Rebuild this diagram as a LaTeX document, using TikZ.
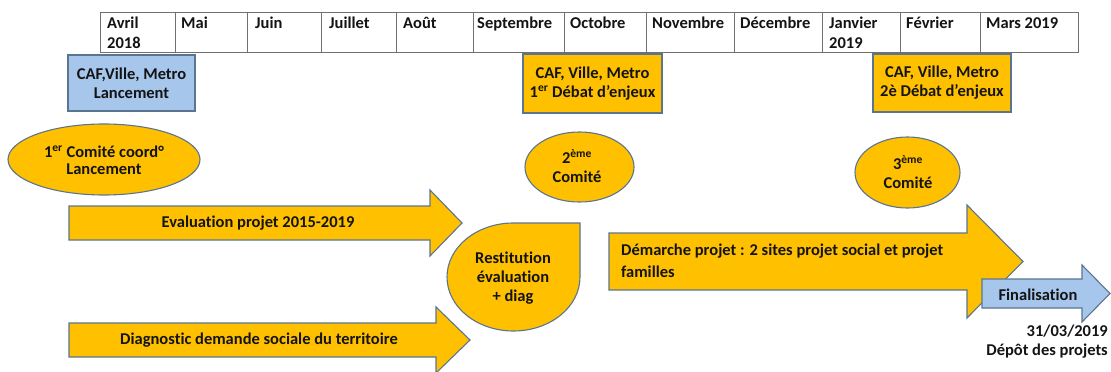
\documentclass[tikz,border=0pt]{standalone}
\usepackage{fontspec}
\setmainfont[Ligatures=NoCommon]{Carlito}
\usetikzlibrary{shapes.geometric}
\definecolor{gold}{HTML}{FFC000}
\definecolor{lblue}{HTML}{A6C6EC}
\definecolor{edgec}{HTML}{5B7591}
\definecolor{gridc}{HTML}{707070}
\definecolor{txt}{HTML}{141414}
\begin{document}
\begin{tikzpicture}[x=1pt,y=-1pt,
  every node/.style={font=\fontsize{16.5}{19}\selectfont\bfseries, text=txt, inner sep=0pt},
  gridline/.style={draw=gridc, line width=1pt},
  celltext/.style={anchor=north west, align=left, font=\fontsize{16.5}{20}\selectfont\bfseries},
  goldshape/.style={fill=gold, draw=edgec, line width=1.1pt, line join=miter},
  blueshape/.style={fill=lblue, draw=edgec, line width=1.1pt},
  goldbox/.style={goldshape, rectangle, align=center},
  bluebox/.style={blueshape, rectangle, align=center},
  goldell/.style={goldshape, ellipse, align=center},
  lbl/.style={align=center}]
\useasboundingbox (0,0) rectangle (1111,372);
\fill[white] (0,0) rectangle (1111,372);

% ---- month table ----
\draw[gridline] (100,12.7) rectangle (1078,52.7);
\foreach \c in {175.7,247.7,321,396,473,564,646,734,822,900,980}
  \draw[gridline] (\c,12.7) -- (\c,52.7);
\node[celltext] (m1)  at (107,17) {Avril\\2018};
\node[celltext] (m2)  at (181,17) {Mai};
\node[celltext] (m3)  at (255,17) {Juin};
\node[celltext] (m4)  at (329,17) {Juillet};
\node[celltext] (m5)  at (403,17) {Août};
\node[celltext] (m6)  at (477,17) {Septembre};
\node[celltext] (m7)  at (570,17) {Octobre};
\node[celltext] (m8)  at (652,17) {Novembre};
\node[celltext] (m9)  at (740,17) {Décembre};
\node[celltext] (m10) at (829,17) {Janvier\\2019};
\node[celltext] (m11) at (906,17) {Février};
\node[celltext] (m12) at (986,17) {Mars 2019};

% ---- meeting boxes ----
\node[bluebox, minimum width=127pt, minimum height=56pt] (b1) at (131.5,83) {CAF,Ville, Metro\\Lancement};
\node[goldbox, minimum width=139pt, minimum height=59pt] (b2) at (592.5,83.5) {CAF, Ville, Metro\\1\textsuperscript{er} Débat d’enjeux};
\node[goldbox, minimum width=138pt, minimum height=58pt] (b3) at (942,83) {CAF, Ville, Metro\\2è Débat d’enjeux};

% ---- comités ----
\node[goldell, minimum width=192pt, minimum height=71pt] (c1) at (104,159.5) {};
\node[lbl] (c1t) at (104,160.5) {1\textsuperscript{er} Comité coord°\\[-2pt]Lancement};
\node[goldell, minimum width=109pt, minimum height=70pt] (c2) at (579.5,167) {};
\node[lbl] (c2t) at (577,166) {2\textsuperscript{ème}\\[0pt]Comité};
\node[goldell, minimum width=105pt, minimum height=71pt] (c3) at (907.5,172.5) {};
\node[lbl] (c3t) at (908,172) {3\textsuperscript{ème}\\[0pt]Comité};

% ---- arrows ----
\draw[goldshape] (69,206) -- (430,206) -- (430,190) -- (462,223) -- (430,256) -- (430,240) -- (69,240) -- cycle;
\node[lbl] (a1) at (258,223) {Evaluation projet 2015-2019};

\draw[goldshape] (69,323) -- (436,323) -- (436,307) -- (470,340) -- (436,373) -- (436,357) -- (69,357) -- cycle;
\node[lbl] (a2) at (259,340) {Diagnostic demande sociale du territoire};

\draw[goldshape] (580,223) -- (513.5,223) arc[start angle=270, end angle=0, x radius=66.5, y radius=54] -- cycle;
\node[lbl] (r1) at (513,278) {Restitution\\évaluation\\+ diag};

\draw[goldshape] (609,233) -- (967,233) -- (967,205) -- (1023,261.5) -- (967,318) -- (967,290) -- (609,290) -- cycle;
\node[anchor=west, align=left, font=\fontsize{16.5}{22}\selectfont\bfseries] (a3) at (621,261) {Démarche projet : 2 sites projet social et projet\\familles};

\draw[blueshape, line join=miter] (982,279) -- (1082,279) -- (1082,265) -- (1110,293.5) -- (1082,322) -- (1082,308) -- (982,308) -- cycle;
\node[lbl] (a4) at (1038,295) {Finalisation};

\node[anchor=east, align=right] (d1) at (1108,341.5) {31/03/2019\\Dépôt des projets};
\end{tikzpicture}
\end{document}
